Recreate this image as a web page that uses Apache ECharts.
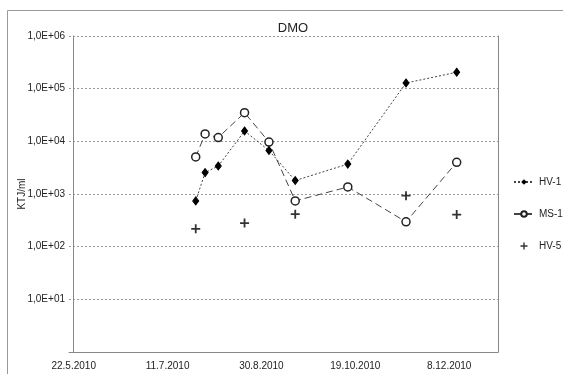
<!DOCTYPE html>
<html>
<head>
<meta charset="utf-8">
<script src="https://cdn.jsdelivr.net/npm/echarts@6/dist/echarts.min.js"></script>
<style>
  html, body { margin: 0; padding: 0; background: #fff; }
  #chart { width: 563px; height: 374px; }
</style>
</head>
<body>
<div id="chart"></div>
<script>
// Sampling dates and measured values (KTJ/ml)
const hv1Dates = ['2010-07-26', '2010-07-31', '2010-08-07', '2010-08-21', '2010-09-03', '2010-09-17', '2010-10-15', '2010-11-15', '2010-12-12'];
const hv1Values = [740, 2550, 3400, 15700, 6700, 1800, 3700, 128000, 205000];

const ms1Dates = ['2010-07-26', '2010-07-31', '2010-08-07', '2010-08-21', '2010-09-03', '2010-09-17', '2010-10-15', '2010-11-15', '2010-12-12'];
const ms1Values = [5050, 13800, 11800, 35000, 9700, 740, 1360, 296, 4000];

const hv5Dates = ['2010-07-26', '2010-08-21', '2010-09-17', '2010-11-15', '2010-12-12'];
const hv5Values = [218, 280, 414, 930, 407];

// Date axis: start date, tick step (days) and tick labels
const axisStart = '2010-05-22';
const tickStepDays = 50;
const xTickLabels = ['22.5.2010', '11.7.2010', '30.8.2010', '19.10.2010', '8.12.2010'];
const yTickLabels = ['1,0E+01', '1,0E+02', '1,0E+03', '1,0E+04', '1,0E+05', '1,0E+06'];

const DAY = 86400000;
const startMs = Date.parse(axisStart + 'T00:00:00Z');
const toDay = d => (Date.parse(d + 'T00:00:00Z') - startMs) / DAY;
const pairs = (dates, vals) => dates.map((d, i) => [toDay(d), vals[i]]);
const tickDays = xTickLabels.map((_, i) => i * tickStepDays);

const FONT = 'Liberation Sans, Arial, sans-serif';
const plusPath = 'path://M4,0H6V4H10V6H6V10H4V6H0V4H4Z';

const chart = echarts.init(document.getElementById('chart'), null, { renderer: 'canvas' });
chart.setOption({
  animation: false,
  backgroundColor: '#fff',
  textStyle: { fontFamily: FONT },
  title: {
    text: 'DMO',
    left: 288, top: 17,
    textAlign: 'center',
    textStyle: { fontFamily: FONT, fontSize: 13, fontWeight: 'normal', color: '#222' }
  },
  graphic: [{
    type: 'rect',
    shape: { x: 7.5, y: 10.5, width: 600, height: 400 },
    style: { fill: 'none', stroke: '#999', lineWidth: 1 },
    silent: true, z: -1
  }],
  grid: { left: 69, right: 65, top: 36, bottom: 22, containLabel: false },
  legend: {
    orient: 'vertical',
    left: 513, top: 177,
    padding: 0,
    itemWidth: 20, itemHeight: 7, itemGap: 22,
    textStyle: { fontFamily: FONT, fontSize: 10, color: '#222' },
    data: ['HV-1', 'MS-1', 'HV-5']
  },
  xAxis: {
    type: 'value',
    min: -2.5, max: 226,
    axisLine: { show: true, lineStyle: { color: '#888', width: 1 } },
    axisTick: { show: false },
    splitLine: { show: false },
    axisLabel: {
      customValues: tickDays,
      formatter: v => xTickLabels[Math.round(v / tickStepDays)] || '',
      fontFamily: FONT, fontSize: 10, color: '#222', margin: 9
    }
  },
  yAxis: [{
    type: 'log', logBase: 10,
    min: 1, max: 1e6,
    name: 'KTJ/ml',
    nameLocation: 'middle', nameGap: 42, nameRotate: 90,
    nameMoveOverlap: false,
    nameTextStyle: { fontFamily: FONT, fontSize: 10, color: '#222' },
    axisLine: { show: true, lineStyle: { color: '#888', width: 1 } },
    axisTick: { show: false },
    splitLine: { show: true, lineStyle: { color: '#999', type: [2, 2], width: 1 } },
    axisLabel: {
      fontFamily: FONT, fontSize: 10, color: '#222', margin: 4,
      formatter: v => {
        const e = Math.round(Math.log10(v));
        return e >= 1 ? yTickLabels[e - 1] : '';
      }
    }
  }, {
    type: 'log', logBase: 10,
    min: 1, max: 1e6,
    position: 'right',
    axisLine: { show: true, lineStyle: { color: '#888', width: 1 } },
    axisTick: { show: false },
    axisLabel: { show: false },
    splitLine: { show: false }
  }],
  series: [{
    name: 'HV-1',
    type: 'line',
    data: pairs(hv1Dates, hv1Values),
    symbol: 'diamond',
    symbolSize: [6, 8],
    itemStyle: { color: '#000', borderColor: '#000' },
    lineStyle: { color: '#444', width: 1, type: [2, 2] },
    z: 3
  }, {
    name: 'MS-1',
    type: 'line',
    data: pairs(ms1Dates, ms1Values),
    symbol: 'circle',
    symbolSize: 8,
    showAllSymbol: true,
    itemStyle: { color: '#fff', borderColor: '#222', borderWidth: 1.5 },
    lineStyle: { color: '#444', width: 1, type: [7, 4] },
    z: 2
  }, {
    name: 'HV-5',
    type: 'scatter',
    data: pairs(hv5Dates, hv5Values),
    symbol: plusPath,
    symbolSize: 9,
    itemStyle: { color: '#000' },
    z: 3
  }]
});
</script>
</body>
</html>
